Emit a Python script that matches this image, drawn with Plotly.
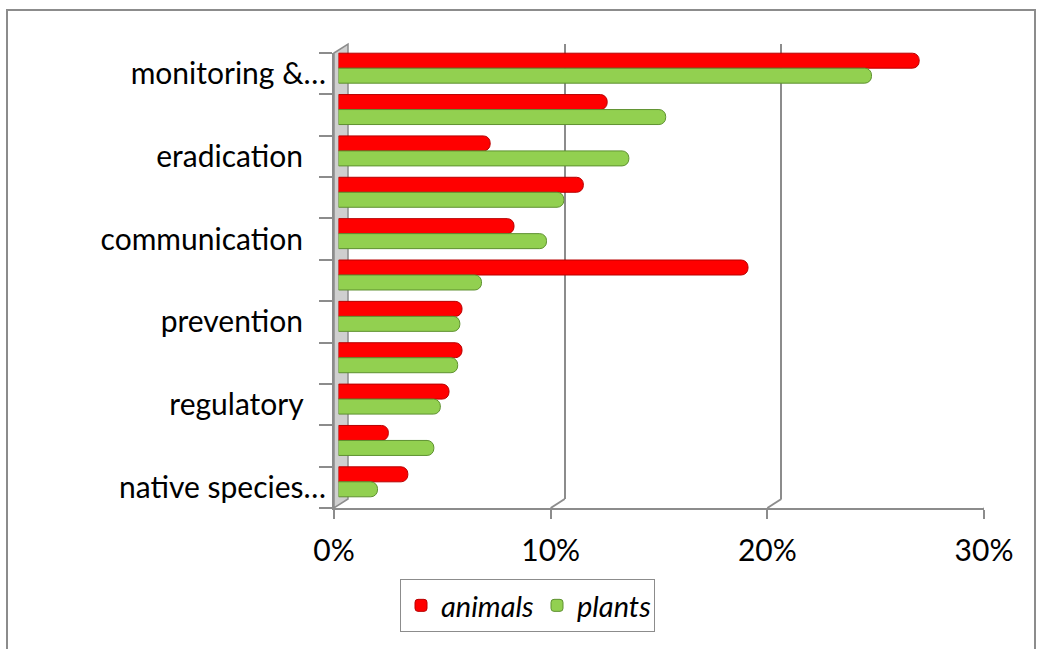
import plotly.graph_objects as go

# ---- data -------------------------------------------------------------
categories = ["monitoring &…", "control", "eradication", "research",
              "communication", "containment", "prevention", "restoration",
              "regulatory", "risk assessment", "native species…"]
animals = [26.8, 12.4, 7.0, 11.3, 8.1, 18.9, 5.7, 5.7, 5.1, 2.3, 3.2]
plants = [24.6, 15.1, 13.4, 10.4, 9.6, 6.6, 5.6, 5.5, 4.7, 4.4, 1.8]
x_ticks = [0, 10, 20, 30]
x_tick_labels = ["0%", "10%", "20%", "30%"]
label_step = 2  # every other category label is shown

# ---- layout geometry (pixels) ------------------------------------------
W, H = 1042, 649
FRONT_L, FRONT_R = 334, 984      # x = 0 .. 30 on the front edge
FRONT_T, FRONT_B = 53, 508
DX, DY = 14, 9                   # 3-D depth offset of the back wall
BAR_L, BAR_R = 338.5, 988.5      # bars sit slightly behind the front edge
BAR_T, BAR_B = 47.5, 502.5
GRID = "#8C8C8C"
FONT = "Lato"
FS = 30


def fx(p):
    return p / W


def fy(p):
    return 1 - p / H


n = len(categories)
xmax = x_ticks[-1]

fig = go.Figure()

# invisible traces so the back-wall and front-axis subplots exist
fig.add_trace(go.Scatter(x=[], y=[], xaxis="x", yaxis="y",
                         showlegend=False, hoverinfo="skip"))
fig.add_trace(go.Scatter(x=[], y=[], xaxis="x2", yaxis="y2",
                         showlegend=False, hoverinfo="skip"))

fig.add_trace(go.Bar(
    name="animals", y=categories, x=animals, orientation="h",
    xaxis="x3", yaxis="y3", legendwidth=91,
    marker=dict(color="#FF0000", line=dict(color="#B80000", width=1)),
))
fig.add_trace(go.Bar(
    name="plants", y=categories, x=plants, orientation="h",
    xaxis="x3", yaxis="y3", legendwidth=72,
    marker=dict(color="#92D050", line=dict(color="#5E9130", width=1)),
))

# labels: untruncated names carry trailing padding like the source layout
shown_idx = list(range(0, n, label_step))
tick_text = [categories[i] if categories[i].endswith("…")
             else categories[i] + "\u00a0" * 3 for i in shown_idx]

shapes = []
# left side wall
shapes.append(dict(
    type="path", xref="paper", yref="paper", layer="below",
    path=(f"M{fx(FRONT_L)},{fy(FRONT_T)} L{fx(FRONT_L + DX)},{fy(FRONT_T - DY)} "
          f"L{fx(FRONT_L + DX)},{fy(FRONT_B - DY)} L{fx(FRONT_L)},{fy(FRONT_B)} Z"),
    fillcolor="#CFCFCF", line=dict(color=GRID, width=1.5),
))
# floor connectors between front ticks and back gridlines
for v in x_ticks[1:]:
    shapes.append(dict(
        type="line", xref="x2", xsizemode="pixel", xanchor=v, x0=0, x1=DX,
        yref="paper", y0=fy(FRONT_B), y1=fy(FRONT_B - DY),
        line=dict(color=GRID, width=2), layer="above",
    ))
# chart frame
shapes.append(dict(
    type="rect", xref="paper", yref="paper",
    x0=fx(7), x1=fx(1035), y0=-0.1, y1=fy(10),
    line=dict(color=GRID, width=2), fillcolor="rgba(0,0,0,0)", layer="below",
))

fig.update_layout(
    width=W, height=H,
    margin=dict(l=0, r=0, t=0, b=0, autoexpand=False),
    paper_bgcolor="white", plot_bgcolor="rgba(0,0,0,0)",
    barmode="group", bargap=0.275, bargroupgap=0, barcornerradius="45%",
    font=dict(family=FONT, size=FS, color="black"),
    shapes=shapes,
    # back wall gridlines
    xaxis=dict(domain=[fx(FRONT_L + DX), fx(FRONT_R + DX)], range=[0, xmax],
               anchor="y", tickvals=x_ticks[1:], showgrid=True,
               gridcolor=GRID, gridwidth=2, showticklabels=False,
               ticks="", showline=False, zeroline=False, fixedrange=True,
               automargin=False),
    yaxis=dict(domain=[fy(FRONT_B - DY), fy(FRONT_T - DY)], range=[0, 1],
               anchor="x", visible=False, fixedrange=True, automargin=False),
    # front edge: value ticks and category ticks
    xaxis2=dict(domain=[fx(FRONT_L), fx(FRONT_R)], range=[0, xmax],
                anchor="y2", tickvals=x_ticks, ticktext=x_tick_labels,
                ticks="outside", ticklen=9, tickwidth=2, tickcolor=GRID,
                showline=True, linecolor=GRID, linewidth=2,
                showgrid=False, zeroline=False, ticklabelstandoff=6,
                tickfont=dict(family=FONT, size=FS), fixedrange=True,
                automargin=False),
    yaxis2=dict(domain=[fy(FRONT_B), fy(FRONT_T)], range=[n, 0],
                anchor="x2", tickvals=[i + 0.5 for i in shown_idx],
                ticktext=tick_text, ticks="",
                minor=dict(tickvals=list(range(n + 1)), ticks="outside",
                           ticklen=13, tickwidth=2, tickcolor=GRID),
                showline=True, linecolor=GRID, linewidth=2,
                showgrid=False, zeroline=False, ticklabelstandoff=0,
                tickfont=dict(family=FONT, size=FS), fixedrange=True,
                automargin=False),
    # bars
    xaxis3=dict(domain=[fx(BAR_L), fx(BAR_R)], range=[0, xmax],
                anchor="y3", visible=False, fixedrange=True, automargin=False),
    yaxis3=dict(domain=[fy(BAR_B), fy(BAR_T)], anchor="x3",
                categoryorder="array", categoryarray=categories,
                autorange="reversed", visible=False, fixedrange=True,
                automargin=False),
    legend=dict(orientation="h", x=fx(400), y=fy(579),
                xanchor="left", yanchor="top",
                bgcolor="white", bordercolor=GRID, borderwidth=1,
                font=dict(family=FONT, size=29, style="italic"),
                itemwidth=30, traceorder="normal"),
)

fig.write_html("out.html")
